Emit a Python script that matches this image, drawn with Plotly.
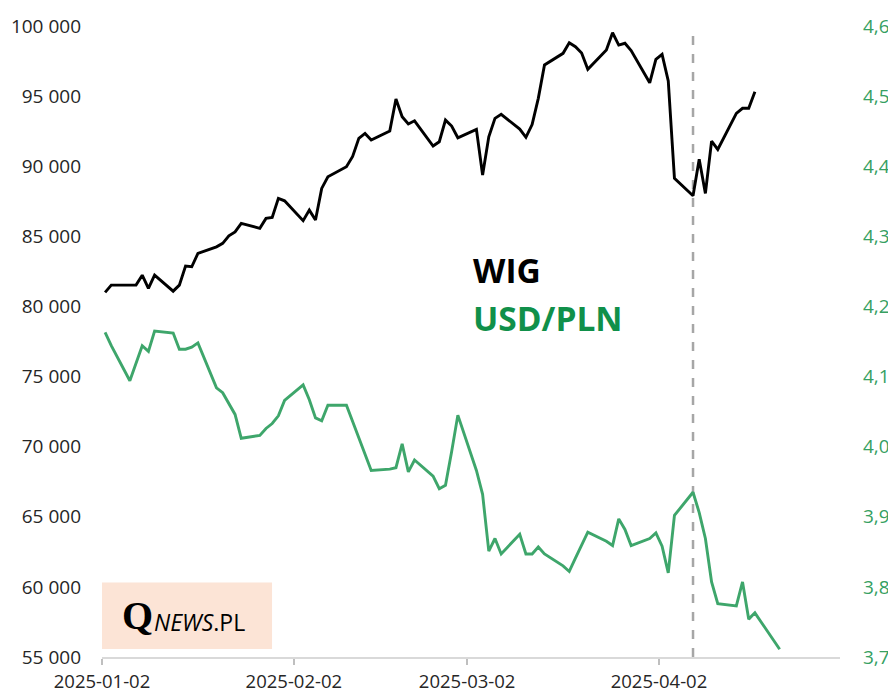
import pandas as pd
import plotly.graph_objects as go

# ---------------- data ----------------
wig_dates = [
    "2025-01-02", "2025-01-03", "2025-01-07", "2025-01-08", "2025-01-09", "2025-01-10",
    "2025-01-13", "2025-01-14", "2025-01-15", "2025-01-16", "2025-01-17",
    "2025-01-20", "2025-01-21", "2025-01-22", "2025-01-23", "2025-01-24",
    "2025-01-27", "2025-01-28", "2025-01-29", "2025-01-30", "2025-01-31",
    "2025-02-03", "2025-02-04", "2025-02-05", "2025-02-06", "2025-02-07",
    "2025-02-10", "2025-02-11", "2025-02-12", "2025-02-13", "2025-02-14",
    "2025-02-17", "2025-02-18", "2025-02-19", "2025-02-20", "2025-02-21",
    "2025-02-24", "2025-02-25", "2025-02-26", "2025-02-27", "2025-02-28",
    "2025-03-03", "2025-03-04", "2025-03-05", "2025-03-06", "2025-03-07",
    "2025-03-10", "2025-03-11", "2025-03-12", "2025-03-13", "2025-03-14",
    "2025-03-17", "2025-03-18", "2025-03-19", "2025-03-20", "2025-03-21",
    "2025-03-24", "2025-03-25", "2025-03-26", "2025-03-27", "2025-03-28",
    "2025-03-31", "2025-04-01", "2025-04-02", "2025-04-03", "2025-04-04",
    "2025-04-07", "2025-04-08", "2025-04-09", "2025-04-10", "2025-04-11",
    "2025-04-14", "2025-04-15", "2025-04-16", "2025-04-17",
]
wig_values = [
    81000, 81520, 81520, 82230, 81285, 82230,
    81090, 81520, 82880, 82830, 83780,
    84250, 84500, 85030, 85320, 85920,
    85570, 86280, 86350, 87710, 87535,
    86120, 86870, 86160, 88420, 89250,
    89960, 90700, 91990, 92340, 91870,
    92510, 94790, 93530, 93010, 93240,
    91440, 91745, 93290, 92865, 92030,
    92630, 89370, 92100, 93410, 93700,
    92650, 92060, 92970, 94840, 97220,
    98050, 98810, 98520, 98070, 96910,
    98290, 99520, 98640, 98770, 98250,
    95950, 97620, 97980, 96080, 89130,
    87890, 90490, 88060, 91790, 91200,
    93770, 94130, 94130, 95310,
]

usd_dates = [
    "2025-01-02", "2025-01-03", "2025-01-06", "2025-01-07", "2025-01-08", "2025-01-09", "2025-01-10",
    "2025-01-13", "2025-01-14", "2025-01-15", "2025-01-16", "2025-01-17",
    "2025-01-20", "2025-01-21", "2025-01-22", "2025-01-23", "2025-01-24",
    "2025-01-27", "2025-01-28", "2025-01-29", "2025-01-30", "2025-01-31",
    "2025-02-03", "2025-02-04", "2025-02-05", "2025-02-06", "2025-02-07",
    "2025-02-10", "2025-02-11", "2025-02-12", "2025-02-13", "2025-02-14",
    "2025-02-17", "2025-02-18", "2025-02-19", "2025-02-20", "2025-02-21",
    "2025-02-24", "2025-02-25", "2025-02-26", "2025-02-27", "2025-02-28",
    "2025-03-03", "2025-03-04", "2025-03-05", "2025-03-06", "2025-03-07",
    "2025-03-10", "2025-03-11", "2025-03-12", "2025-03-13", "2025-03-14",
    "2025-03-17", "2025-03-18", "2025-03-19", "2025-03-20", "2025-03-21",
    "2025-03-24", "2025-03-25", "2025-03-26", "2025-03-27", "2025-03-28",
    "2025-03-31", "2025-04-01", "2025-04-02", "2025-04-03", "2025-04-04",
    "2025-04-07", "2025-04-08", "2025-04-09", "2025-04-10", "2025-04-11",
    "2025-04-14", "2025-04-15", "2025-04-16", "2025-04-17", "2025-04-21",
]
usd_values = [
    4.163, 4.144, 4.094, 4.120, 4.144, 4.136, 4.165,
    4.162, 4.139, 4.139, 4.142, 4.148,
    4.084, 4.077, 4.062, 4.046, 4.012,
    4.016, 4.026, 4.033, 4.044, 4.066,
    4.088, 4.067, 4.041, 4.037, 4.059,
    4.059, 4.036, 4.013, 3.989, 3.966,
    3.968, 3.970, 4.004, 3.964, 3.981,
    3.958, 3.940, 3.945, 3.993, 4.045,
    3.966, 3.932, 3.851, 3.869, 3.847,
    3.875, 3.847, 3.847, 3.857, 3.847,
    3.830, 3.822, 3.841, 3.860, 3.878,
    3.865, 3.859, 3.897, 3.882, 3.859,
    3.869, 3.877, 3.858, 3.820, 3.902,
    3.935, 3.906, 3.869, 3.807, 3.776,
    3.773, 3.807, 3.754, 3.763, 3.711,
]

x_tick_labels = ["2025-01-02", "2025-02-02", "2025-03-02", "2025-04-02"]
wig_ticks = [55000, 60000, 65000, 70000, 75000, 80000, 85000, 90000, 95000, 100000]
usd_ticks = [3.7, 3.8, 3.9, 4.0, 4.1, 4.2, 4.3, 4.4, 4.5, 4.6]
marker_date = "2025-04-07"

# ---------------- styling ----------------
GREEN_LINE = "#3EA66B"
GREEN_TEXT = "#10904A"
GREEN_TICK = "#36A062"
DARK = "#262626"
FONT = "Open Sans"

# points sit in the middle of their day slot (date axis, between tick marks)
half_day = pd.Timedelta(hours=12)
wig_x = pd.to_datetime(wig_dates) + half_day
usd_x = pd.to_datetime(usd_dates) + half_day

fig = go.Figure()
fig.add_trace(go.Scatter(
    x=wig_x, y=wig_values, mode="lines", name="WIG",
    line=dict(color="#000000", width=2.9), yaxis="y",
))
fig.add_trace(go.Scatter(
    x=usd_x, y=usd_values, mode="lines", name="USD/PLN",
    line=dict(color=GREEN_LINE, width=2.9), yaxis="y2",
))

# dashed vertical marker
fig.add_shape(
    type="line", xref="x", yref="paper",
    x0=pd.Timestamp(marker_date) + half_day, x1=pd.Timestamp(marker_date) + half_day,
    y0=0, y1=0.985,
    line=dict(color="#A6A6A6", width=2.5, dash="dash"),
    layer="below",
)

# logo box
fig.add_shape(
    type="rect", xref="paper", yref="paper",
    x0=0.0, x1=0.2304, y0=0.0125, y1=0.118,
    fillcolor="#FCE4D6", line=dict(width=0), layer="below",
)
fig.add_annotation(
    xref="paper", yref="paper", x=0.024, y=0.066, xanchor="left", yanchor="middle",
    text="<b>Q</b>", showarrow=False,
    font=dict(family="Liberation Serif", size=40, color="#000000"),
)
fig.add_annotation(
    xref="paper", yref="paper", x=0.0675, y=0.0555, xanchor="left", yanchor="middle",
    text="<i>NEWS</i>.PL", showarrow=False,
    font=dict(family=FONT, size=23, color="#000000"),
)

# in-chart legend labels
fig.add_annotation(
    xref="paper", yref="paper", x=0.5005, y=0.613, xanchor="left", yanchor="middle",
    text="<b>WIG</b>", showarrow=False,
    font=dict(family=FONT, size=33.5, color="#000000"),
)
fig.add_annotation(
    xref="paper", yref="paper", x=0.5005, y=0.537, xanchor="left", yanchor="middle",
    text="<b>USD/PLN</b>", showarrow=False,
    font=dict(family=FONT, size=33.5, color=GREEN_TEXT),
)

# page body adds an 8px offset, so the figure is 8px smaller and margins shifted
fig.update_layout(
    width=888, height=685,
    margin=dict(l=94, r=56, t=18, b=36),
    paper_bgcolor="white", plot_bgcolor="white",
    showlegend=False,
    separators=", ",
    font=dict(family=FONT, size=19, color=DARK),
    xaxis=dict(
        type="date", automargin=False,
        range=["2025-01-02", "2025-05-01 06:00"],
        tickvals=x_tick_labels, ticktext=x_tick_labels,
        showgrid=False, zeroline=False,
        showline=True, linecolor="#D9D9D9", linewidth=1.5,
        ticks="outside", ticklen=6, tickcolor="#BFBFBF", tickwidth=1.5,
        ticklabelstandoff=1,
        tickfont=dict(family=FONT, size=18.5, color=DARK),
    ),
    yaxis=dict(
        automargin=False,
        range=[55000, 100000], tickvals=wig_ticks, tickformat=",d",
        showgrid=False, zeroline=False, showline=False,
        ticks="", ticklabelstandoff=20,
        tickfont=dict(family=FONT, size=19, color=DARK),
    ),
    yaxis2=dict(
        automargin=False,
        range=[3.7, 4.6], tickvals=usd_ticks, tickformat=".1f",
        overlaying="y", side="right",
        showgrid=False, zeroline=False, showline=False,
        ticks="", ticklabelstandoff=22,
        tickfont=dict(family=FONT, size=19, color=GREEN_TICK),
    ),
)

fig.write_html("out.html")
